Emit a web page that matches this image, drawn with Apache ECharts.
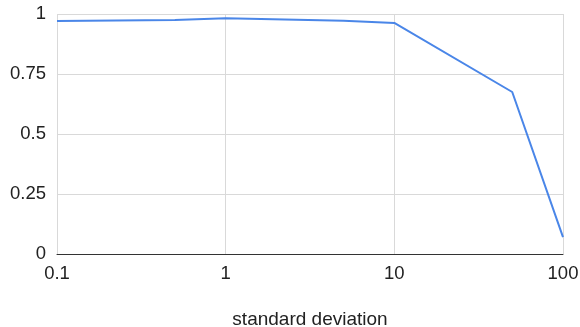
<!DOCTYPE html>
<html>
<head>
<meta charset="utf-8">
<script src="https://cdn.jsdelivr.net/npm/echarts@6/dist/echarts.min.js"></script>
<style>html,body{margin:0;padding:0;background:#fff;}#c{width:580px;height:327px;}</style>
</head>
<body>
<div id="c"></div>
<script>
const xValues = [0.1, 0.5, 1, 5, 10, 50, 100];
const yValues = [0.971, 0.975, 0.982, 0.972, 0.963, 0.675, 0.07];
const xAxisTitle = 'standard deviation';
const yTicks = [0, 0.25, 0.5, 0.75, 1];

const chart = echarts.init(document.getElementById('c'), null, {renderer: 'canvas'});
chart.setOption({
  animation: false,
  backgroundColor: '#ffffff',
  grid: {left: 57, right: 17, top: 14, bottom: 73, containLabel: false, outerBoundsMode: 'none'},
  xAxis: {
    type: 'log', logBase: 10, min: 0.1, max: 100,
    name: xAxisTitle, nameLocation: 'middle', nameGap: 56,
    nameTextStyle: {fontFamily: 'Liberation Sans, Arial', fontSize: 19, color: '#222'},
    axisLine: {show: true, lineStyle: {color: '#333', width: 1}},
    axisTick: {show: false},
    minorTick: {show: false},
    splitLine: {show: true, lineStyle: {color: '#d9d9d9', width: 1}},
    axisLabel: {fontFamily: 'Liberation Sans, Arial', fontSize: 18.5, color: '#222', margin: 10,
      formatter: v => String(+v.toPrecision(6))}
  },
  yAxis: {
    type: 'value', min: 0, max: 1, interval: 0.25,
    axisLine: {show: false}, axisTick: {show: false},
    splitLine: {show: true, lineStyle: {color: '#d9d9d9', width: 1}},
    axisLabel: {fontFamily: 'Liberation Sans, Arial', fontSize: 18.5, color: '#222', margin: 11,
      formatter: v => String(+v.toPrecision(6))}
  },
  series: [{
    type: 'line',
    data: xValues.map((x, i) => [x, yValues[i]]),
    showSymbol: false,
    lineStyle: {color: '#4a86e8', width: 2},
    itemStyle: {color: '#4a86e8'}
  }]
});
</script>
</body>
</html>
